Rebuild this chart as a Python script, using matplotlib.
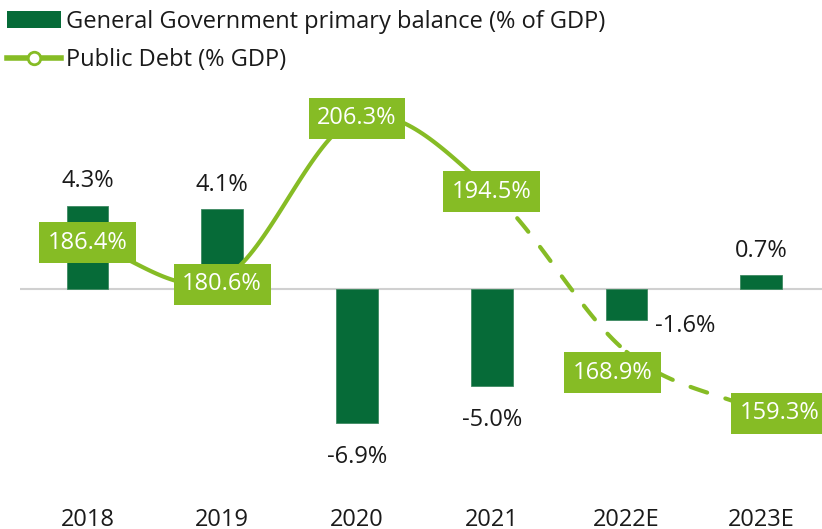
import numpy as np
import matplotlib
matplotlib.use("Agg")
import matplotlib.pyplot as plt
from matplotlib.patches import Patch
from matplotlib.lines import Line2D

plt.rcParams['font.family'] = ['Open Sans', 'DejaVu Sans']

years = ['2018', '2019', '2020', '2021', '2022E', '2023E']
primary_balance = [4.3, 4.1, -6.9, -5.0, -1.6, 0.7]
public_debt = [186.4, 180.6, 206.3, 194.5, 168.9, 159.3]

BAR_GREEN = '#066b38'
LINE_GREEN = '#86bc25'
TEXT = '#1a1a1a'


def smooth(xs, ys, n=40):
    # catmull-rom curve through the points, like a smoothed line in a spreadsheet
    xs = np.asarray(xs, float)
    ys = np.asarray(ys, float)
    px = np.concatenate([[2 * xs[0] - xs[1]], xs, [2 * xs[-1] - xs[-2]]])
    py = np.concatenate([[2 * ys[0] - ys[1]], ys, [2 * ys[-1] - ys[-2]]])
    segs = []
    t = np.linspace(0, 1, n)
    for i in range(1, len(px) - 2):
        x0, x1, x2, x3 = px[i - 1:i + 3]
        y0, y1, y2, y3 = py[i - 1:i + 3]
        t2, t3 = t * t, t * t * t
        cx = 0.5 * (2 * x1 + (-x0 + x2) * t + (2 * x0 - 5 * x1 + 4 * x2 - x3) * t2 + (-x0 + 3 * x1 - 3 * x2 + x3) * t3)
        cy = 0.5 * (2 * y1 + (-y0 + y2) * t + (2 * y0 - 5 * y1 + 4 * y2 - y3) * t2 + (-y0 + 3 * y1 - 3 * y2 + y3) * t3)
        segs.append((cx, cy))
    return segs


fig = plt.figure(figsize=(8.22, 5.29), dpi=100)
ax = fig.add_axes([20 / 822, 29 / 529, 1 - 20 / 822, 410 / 529])
ax2 = ax.twinx()

x = np.arange(len(years))

ax.bar(x, primary_balance, width=0.31, color=BAR_GREEN, edgecolor='#3f8a62', linewidth=0.6, zorder=2)
ax.axhline(0, color='#d0d0d0', linewidth=1.5, zorder=1)
ax.set_xlim(-0.5, 5.45)
ax.set_ylim(-10.88, 10.26)

ax2.set_ylim(145.2, 210.8)

# balance labels (the 2022E one sits to the right of its bar)
bal_offsets = [(0, 9), (0, 9), (0, -16), (0, -16), (42, -4.5), (0, 9)]
for xi, v, off in zip(x, primary_balance, bal_offsets):
    va = 'bottom' if v >= 0 else 'top'
    if off[0] != 0:
        va = 'center'
    ax.annotate(f'{v:.1f}%', (xi, v), xytext=off, textcoords='offset points',
                ha='center', va=va, fontsize=17, color=TEXT, zorder=5)

# debt line: solid for actuals, dashed for estimates
segs = smooth(x, public_debt)
for i, (cx, cy) in enumerate(segs):
    if i < 3:
        ax2.plot(cx, cy, color=LINE_GREEN, linewidth=3, solid_capstyle='round', zorder=3)
    else:
        ax2.plot(cx, cy, color=LINE_GREEN, linewidth=3, linestyle=(0, (4.2, 4.6)),
                 dash_capstyle='round', zorder=3)

debt_offsets = [(0, 0), (0, -4), (0, 0), (0, 0), (-10, -15), (13, -1)]
for xi, v, off in zip(x, public_debt, debt_offsets):
    ax2.annotate(f'{v:.1f}%', (xi, v), xytext=off, textcoords='offset points',
                 ha='center', va='center', fontsize=17, color='white', zorder=6,
                 bbox=dict(boxstyle='square,pad=0.36', facecolor=LINE_GREEN, edgecolor='none'))

ax.set_xticks(x)
ax.set_xticklabels(years, fontsize=17, color=TEXT)
ax.tick_params(axis='x', length=0, pad=6)
ax.set_yticks([])
ax2.set_yticks([])
for a in (ax, ax2):
    for s in a.spines.values():
        s.set_visible(False)

handles = [
    Patch(facecolor=BAR_GREEN, edgecolor='none'),
    Line2D([0], [0], color=LINE_GREEN, linewidth=4, marker='o', markersize=9,
           markerfacecolor='white', markeredgecolor=LINE_GREEN, markeredgewidth=2),
]
labels = ['General Government primary balance (% of GDP)', 'Public Debt (% GDP)']
fig.legend(handles, labels, loc='upper left', bbox_to_anchor=(0.0, 0.995), frameon=False,
           fontsize=17, handlelength=2.3, handletextpad=0.2, labelspacing=0.62,
           borderaxespad=0.0, borderpad=0.3, labelcolor=TEXT)

fig.savefig('out.png', dpi=100)
